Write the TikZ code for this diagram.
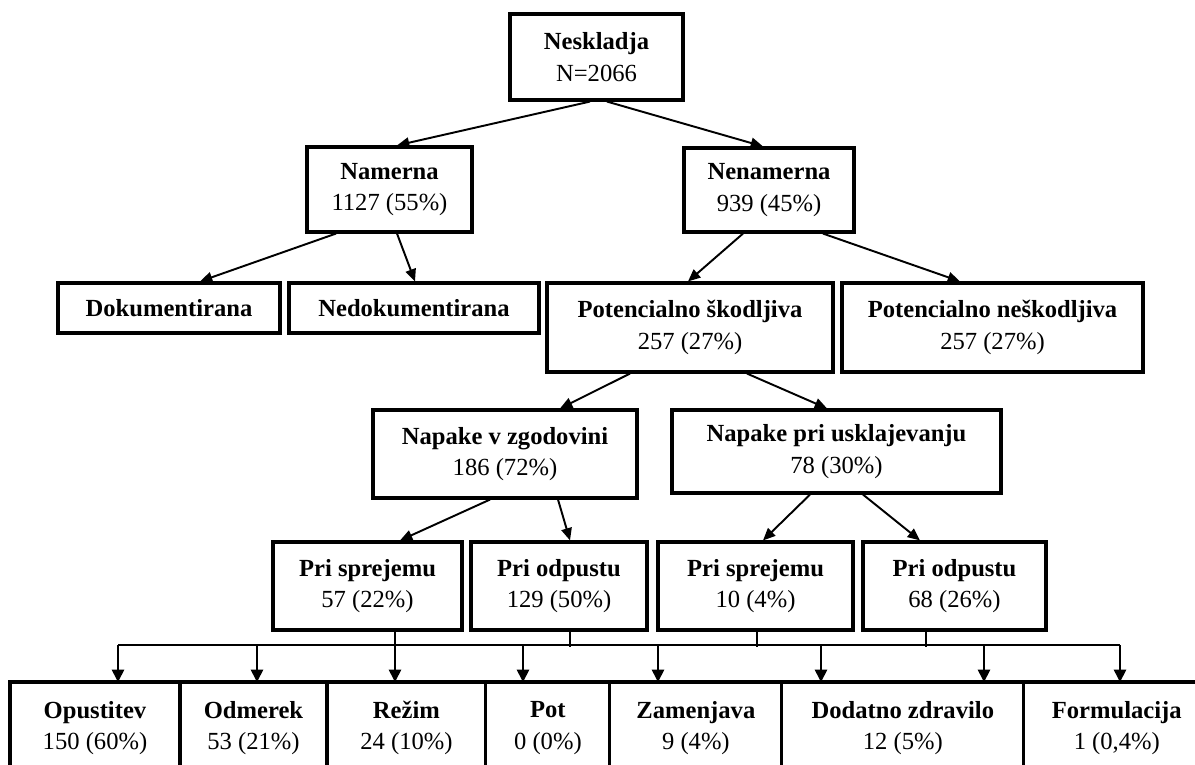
\documentclass[tikz,border=0pt]{standalone}
\usepackage{fontspec}
\setmainfont{Liberation Serif}
\usetikzlibrary{arrows.meta, positioning, calc}

\begin{document}
\begin{tikzpicture}[
  x=0.02cm, y=-0.02cm,
  box/.style={draw, line width=1.8pt, rectangle, align=center, inner sep=2pt, font=\fontsize{14}{18}\selectfont},
  leaf/.style={box, outer sep=0pt, minimum height=1.84cm, anchor=west},
  arrow/.style={-{Triangle[length=7pt, width=6pt]}, line width=1.1pt},
  bus/.style={line width=0.9pt},
  busarrow/.style={bus, -{Triangle[length=7pt, width=7pt]}}
]
\useasboundingbox (0,0) rectangle (1195,764);
\clip (0,0) rectangle (1195,764);

% Nodes
\node (nesk) [box, minimum width=3.46cm, minimum height=1.72cm] at (596.5,57) {\textbf{Neskladja}\\N=2066};

\node (nam) [box, minimum width=3.3cm, minimum height=1.7cm] at (389.5,189.5) {\textbf{Namerna}\\1127 (55\%)};
\node (nen) [box, minimum width=3.4cm, minimum height=1.68cm] at (769,190) {\textbf{Nenamerna}\\939 (45\%)};

\node (doku) [box, minimum width=4.44cm, minimum height=1cm] at (169,308) {\textbf{Dokumentirana}};
\node (nedoku) [box, minimum width=5cm, minimum height=1cm] at (414,308) {\textbf{Nedokumentirana}};
\node (potsk) [box, minimum width=5.72cm, minimum height=1.78cm] at (690,327.5) {\textbf{Potencialno škodljiva}\\257 (27\%)};
\node (potnesk) [box, minimum width=6.02cm, minimum height=1.78cm] at (992.5,327.5) {\textbf{Potencialno neškodljiva}\\257 (27\%)};

\node (zgod) [box, minimum width=5.28cm, minimum height=1.76cm] at (505,454) {\textbf{Napake v zgodovini}\\186 (72\%)};
\node (uskl) [box, minimum width=6.58cm, minimum height=1.66cm] at (836.5,451.5) {\textbf{Napake pri usklajevanju}\\78 (30\%)};

\node (sprL) [box, minimum width=3.78cm, minimum height=1.76cm] at (367.5,586) {\textbf{Pri sprejemu}\\57 (22\%)};
\node (odpL) [box, minimum width=3.52cm, minimum height=1.76cm] at (559,586) {\textbf{Pri odpustu}\\129 (50\%)};
\node (sprR) [box, minimum width=3.9cm, minimum height=1.76cm] at (755.5,586) {\textbf{Pri sprejemu}\\10 (4\%)};
\node (odpR) [box, minimum width=3.66cm, minimum height=1.76cm] at (954.5,586) {\textbf{Pri odpustu}\\68 (26\%)};

% Bottom row
\node (opus) [leaf, minimum width=3.4cm] at (10,728) {\textbf{Opustitev}\\150 (60\%)};
\node (odm) [leaf, minimum width=2.94cm, right=0pt of opus] {\textbf{Odmerek}\\53 (21\%)};
\node (rez) [leaf, minimum width=3.18cm, right=0pt of odm] {\textbf{Režim}\\24 (10\%)};
\node (pot) [leaf, minimum width=2.48cm, right=0pt of rez] {\textbf{Pot}\\0 (0\%)};
\node (zam) [leaf, minimum width=3.44cm, right=0pt of pot] {\textbf{Zamenjava}\\9 (4\%)};
\node (dod) [leaf, minimum width=4.84cm, right=0pt of zam] {\textbf{Dodatno zdravilo}\\12 (5\%)};
\node (form) [leaf, minimum width=3.72cm, right=0pt of dod] {\textbf{Formulacija}\\1 (0,4\%)};

% Arrows
\draw [arrow] ($(nesk.south)+(-6.5,0)$) -- ($(nam.north)+(7.5,0)$);
\draw [arrow] ($(nesk.south)+(10.5,0)$) -- ($(nen.north)+(-6,0)$);
\draw [arrow] ($(nam.south)+(-53.5,0)$) -- ($(doku.north)+(31,0)$);
\draw [arrow] ($(nam.south)+(7.5,0)$) -- ($(nedoku.north)+(1,0)$);
\draw [arrow] ($(nen.south)+(-26,0)$) -- ($(potsk.north)+(-2,0)$);
\draw [arrow] ($(nen.south)+(54,0)$) -- ($(potnesk.north)+(-32.5,0)$);
\draw [arrow] ($(potsk.south)+(-60,0)$) -- ($(zgod.north)+(55,0)$);
\draw [arrow] ($(potsk.south)+(57,0)$) -- ($(uskl.north)+(-9.5,0)$);
\draw [arrow] ($(zgod.south)+(-15,0)$) -- ($(sprL.north)+(32.5,0)$);
\draw [arrow] ($(zgod.south)+(53,0)$) -- ($(odpL.north)+(11,0)$);
\draw [arrow] ($(uskl.south)+(-26.5,0)$) -- ($(sprR.north)+(7.5,0)$);
\draw [arrow] ($(uskl.south)+(26.5,0)$) -- ($(odpR.north)+(-34.5,0)$);

% Bus to the bottom row
\coordinate (b1) at (118,645);
\coordinate (b2) at (257,645);
\coordinate (b3) at (395,645);
\coordinate (b4) at (523,645);
\coordinate (b5) at (658,645);
\coordinate (b6) at (821,645);
\coordinate (b7) at (984,645);
\coordinate (b8) at (1120,645);
\draw [bus] (b1) -- (b8);
\draw [bus] ($(sprL.south)+(27.5,0)$) -- ++(0,15);
\draw [bus] ($(odpL.south)+(11,0)$) -- ++(0,15);
\draw [bus] ($(sprR.south)+(1.5,0)$) -- ++(0,15);
\draw [bus] ($(odpR.south)+(-28.5,0)$) -- ++(0,15);
\draw [busarrow] (b1) -- (b1 |- opus.north);
\draw [busarrow] (b2) -- (b2 |- odm.north);
\draw [busarrow] (b3) -- (b3 |- rez.north);
\draw [busarrow] (b4) -- (b4 |- pot.north);
\draw [busarrow] (b5) -- (b5 |- zam.north);
\draw [busarrow] (b6) -- (b6 |- dod.north);
\draw [busarrow] (b7) -- (b7 |- dod.north);
\draw [busarrow] (b8) -- (b8 |- form.north);

\end{tikzpicture}
\end{document}
